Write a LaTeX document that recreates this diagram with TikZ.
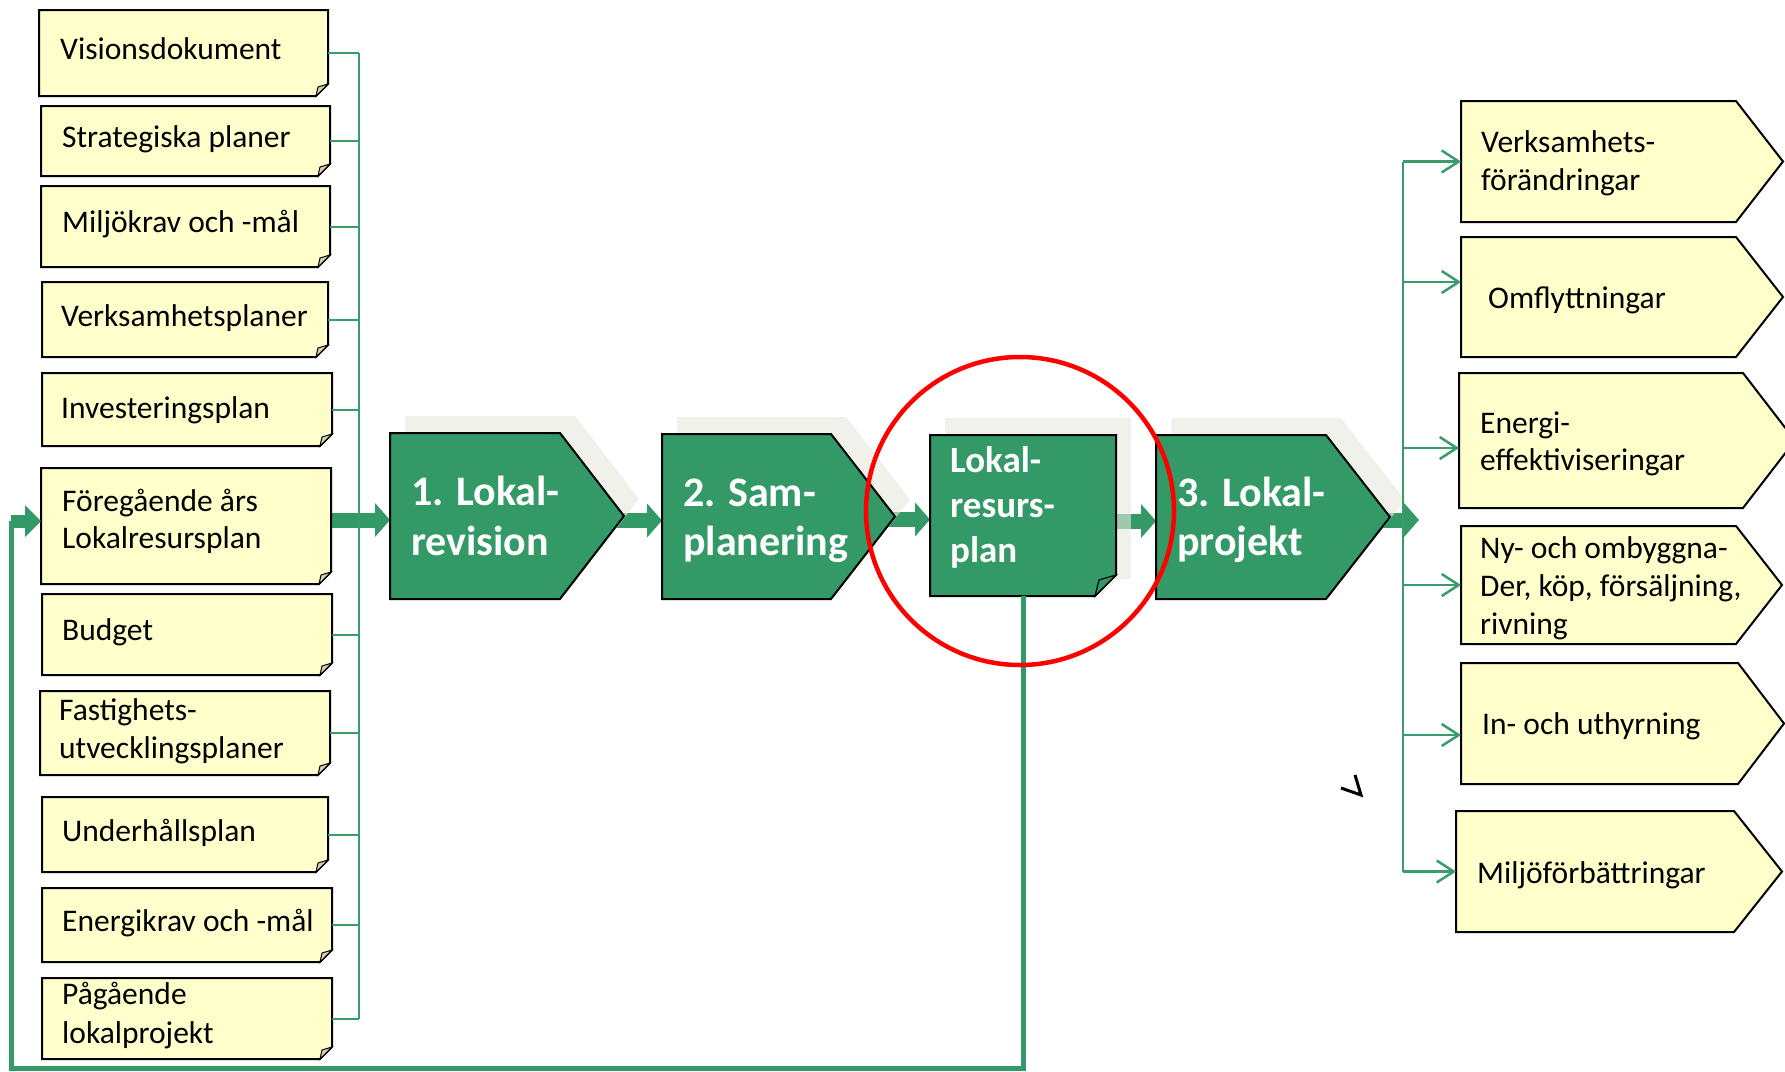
\documentclass[tikz,border=0pt]{standalone}
\usepackage{fontspec}
\setmainfont{Carlito}
\usetikzlibrary{arrows.meta,fit}
\pgfdeclarelayer{bg}
\pgfdeclarelayer{shadowlayer}
\pgfsetlayers{bg,shadowlayer,main}
\definecolor{pgreen}{HTML}{339966}
\definecolor{lgreen}{HTML}{3A9C6C}
\definecolor{yfill}{HTML}{FFFFCC}
\definecolor{shadc}{HTML}{E9E8DF}
\definecolor{flapc}{HTML}{D6D2AE}
\newcommand\mytwolines[3]{\vtop{\baselineskip=#1\hbox{#2}\hbox{#3}}}
\newcommand\mythreelines[4]{\vtop{\baselineskip=#1\hbox{#2}\hbox{#3}\hbox{#4}}}
\tikzset{
  fitbox/.style={inner sep=0pt, outer sep=0pt},
  notestyle/.style={fill=yfill, draw=black, line width=2pt},
  flapstyle/.style={fill=flapc, draw=black, line width=1pt},
  gstyle/.style={fill=pgreen, draw=black, line width=2pt},
  ystyle/.style={fill=yfill, draw=black, line width=2pt},
  shadstyle/.style={fill=shadc, opacity=0.6},
  thickarr/.style={draw=pgreen, line width=15pt, -{Triangle[length=15pt,width=34pt,line width=0pt]}},
  busline/.style={draw=lgreen, line width=2pt},
  rbusline/.style={draw=lgreen, line width=2.5pt},
  rarrow/.style={draw=lgreen, line width=2.5pt, -{Straight Barb[length=17pt,width=22pt]}},
  loopline/.style={draw=pgreen, line width=5pt},
  ltext/.style={anchor=base west, inner sep=0pt, font=\fontsize{31.5pt}{38pt}\selectfont},
  gtext/.style={anchor=base west, inner sep=0pt, text=white, font=\fontsize{42pt}{50pt}\selectfont\bfseries},
  lrptext/.style={anchor=base west, inner sep=0pt, text=white, font=\fontsize{37pt}{45pt}\selectfont\bfseries},
  hlcircle/.style={circle, draw=red, line width=4.5pt, minimum size=308pt, inner sep=0pt},
}
% note box with folded corner: name, x1, y1, x2, y2
\newcommand\notebox[5]{%
  \node[fitbox, fit={(#2,#3) (#4,#5)}] (#1) {};
  \filldraw[notestyle] (#1.north west) -- (#1.north east) -- ([yshift=12pt]#1.south east)
     -- ([xshift=-12pt]#1.south east) -- (#1.south west) -- cycle;
  \filldraw[flapstyle] ([yshift=12pt]#1.south east) -- ([xshift=-12pt]#1.south east)
     -- ([xshift=-10pt,yshift=9pt]#1.south east) -- cycle;}
% pentagon: name, x1, y1, xshoulder, xtip, y2, style
\newcommand\pentbox[7]{%
  \node[fitbox, fit={(#2,#3) (#5,#6)}] (#1) {};
  \filldraw[#7] (#2,#3) -- (#4,#3) -- (#5,{(#3+#6)/2}) -- (#4,#6) -- (#2,#6) -- cycle;}
% green process with shadow
\newcommand\greenproc[6]{%
  \pentbox{#1}{#2}{#3}{#4}{#5}{#6}{gstyle}
  \begin{pgfonlayer}{shadowlayer}
    \fill[shadstyle, shift={(15,-17)}] (#2,#3) -- (#4,#3) -- (#5,{(#3+#6)/2}) -- (#4,#6) -- (#2,#6) -- cycle;
  \end{pgfonlayer}}
\begin{document}
\begin{tikzpicture}[x=1pt,y=-1pt]
\begin{pgfonlayer}{bg}
  \fill[white] (0,0) rectangle (1785,1071);
\end{pgfonlayer}
\useasboundingbox (0,0) rectangle (1785,1071);

% ---------- green process shapes ----------
\greenproc{g1}{390}{433}{560}{624}{599}
\greenproc{g2}{662}{434}{831}{895}{599}
\greenproc{g3}{1156}{435}{1326}{1390}{599}
\node[fitbox, fit={(930,435) (1116,596)}] (lrp) {};
\begin{pgfonlayer}{shadowlayer}
  \fill[shadstyle] (945,418) rectangle (1131,579);
\end{pgfonlayer}
\filldraw[gstyle] (lrp.north west) -- (lrp.north east) -- ([yshift=21pt]lrp.south east)
   -- ([xshift=-21pt]lrp.south east) -- (lrp.south west) -- cycle;
\filldraw[gstyle, line width=1.2pt] ([yshift=21pt]lrp.south east) -- ([xshift=-21pt]lrp.south east)
   -- ([xshift=-17pt,yshift=16pt]lrp.south east) -- cycle;

\node[gtext] (g1t) at (411,505) {\mytwolines{50pt}{1. Lokal-}{revision}};
\node[gtext] (g2t) at (683,506) {\mytwolines{49pt}{2. Sam-}{planering}};
\node[gtext] (g3t) at (1177,506) {\mytwolines{49pt}{3. Lokal-}{projekt}};
\node[lrptext] (lrpt) at (950,472) {\mythreelines{45pt}{Lokal-}{resurs-}{plan}};

% ---------- left note boxes ----------
\notebox{b1}{39}{10}{328}{96}
\notebox{b2}{41}{106}{330}{176}
\notebox{b3}{41}{186}{330}{267}
\notebox{b4}{42}{282}{328}{357}
\notebox{b5}{42}{373}{332}{446}
\notebox{b6}{41}{468}{331}{584}
\notebox{b7}{42}{594}{332}{675}
\notebox{b8}{40}{691}{330}{775}
\notebox{b9}{42}{797}{328}{872}
\notebox{b10}{42}{888}{332}{962}
\notebox{b11}{42}{978}{332}{1059}

\node[ltext] (t1) at (60,59) {Visionsdokument};
\node[ltext] (t2) at (62,147) {Strategiska planer};
\node[ltext] (t3) at (62,232) {Miljökrav och -mål};
\node[ltext] (t4) at (61,326) {Verksamhetsplaner};
\node[ltext] (t5) at (61,418) {Investeringsplan};
\node[ltext] (t6) at (62,511) {\mytwolines{37pt}{Föregående års}{Lokalresursplan}};
\node[ltext] (t7) at (62,640) {Budget};
\node[ltext] (t8) at (59,720) {\mytwolines{38pt}{Fastighets-}{utvecklingsplaner}};
\node[ltext] (t9) at (62,841) {Underhållsplan};
\node[ltext] (t10) at (62,931) {Energikrav och -mål};
\node[ltext] (t11) at (62,1004) {\mytwolines{39pt}{Pågående}{lokalprojekt}};

% ---------- right boxes ----------
\pentbox{r1}{1461}{101}{1736}{1783}{222}{ystyle}
\pentbox{r2}{1461}{237}{1736}{1783}{357}{ystyle}
\pentbox{r3}{1459}{373}{1743}{1795}{508}{ystyle}
\pentbox{r4}{1461}{526}{1736}{1782}{644}{ystyle}
\pentbox{r5}{1461}{663}{1738}{1784}{784}{ystyle}
\pentbox{r6}{1456}{811}{1734}{1782}{932}{ystyle}

\node[ltext] (rt1) at (1481,152) {\mytwolines{38pt}{Verksamhets-}{förändringar}};
\node[ltext] (rt2) at (1488,308) {Omflyttningar};
\node[ltext] (rt3) at (1480,433) {\mytwolines{37pt}{Energi-}{effektiviseringar}};
\node[ltext] (rt4) at (1480,558) {\mythreelines{38pt}{Ny- och ombyggna-}{Der, köp, försäljning,}{rivning}};
\node[ltext] (rt5) at (1482,734) {In- och uthyrning};
\node[ltext] (rt6) at (1477,883) {Miljöförbättringar};

% ---------- thick process arrows (behind shapes) ----------
\coordinate (aL1) at ([yshift=-4pt]g1.west);
\coordinate (aL2) at ([yshift=-4pt]g2.west);
\coordinate (aLRP) at ([yshift=-4pt]lrp.west);
\coordinate (aL3) at ([yshift=-4pt]g3.west);
\coordinate (outR) at (1419,520);
\begin{pgfonlayer}{bg}
  \draw[thickarr] (b6.center |- aL1) -- (aL1);
  \draw[thickarr] (g1.center |- aL2) -- (aL2);
  \draw[thickarr] (g2.center |- aLRP) -- (aLRP);
  \draw[thickarr] (lrp.center |- aL3) -- (aL3);
  \draw[thickarr] (g3.center |- outR) -- (outR);
\end{pgfonlayer}

% ---------- left bus ----------
\coordinate (busL) at (359,0);
\foreach \b in {b1,b2,b3,b4,b5,b7,b8,b9,b10,b11}{
  \draw[busline] (\b.east) -- (\b.east -| busL);
}
\draw[busline] (b1.east -| busL) -- (b11.east -| busL);

% ---------- right bus ----------
\coordinate (busR) at (1403,0);
\coordinate (ar1) at (r1.west);
\coordinate (ar2) at ([yshift=15pt]r2.west);
\coordinate (ar3) at ([yshift=-7.5pt]r3.west);
\coordinate (ar4) at (r4.west);
\coordinate (ar5) at ([yshift=-11.5pt]r5.west);
\coordinate (ar6) at (r6.west);
\draw[rbusline] (busR |- ar1) -- (busR |- ar6);
\foreach \a in {ar1,ar2,ar3,ar4,ar5,ar6}{
  \draw[rarrow] (busR |- \a) -- (\a);
}

% ---------- feedback loop ----------
\coordinate (lb) at (11,1068);
\coordinate (fin) at ([yshift=5pt]b6.west);
\draw[loopline] (lrp.south) |- (lb) -- (lb |- fin);
\draw[draw=pgreen, line width=13pt, -{Triangle[length=16pt,width=32pt,line width=0pt]}] (lb |- fin) -- (fin);

% ---------- highlight circle ----------
\node[hlcircle] (hl) at (1020,511) {};

% ---------- stray mark ----------
\draw[line width=3pt] (1355,775) -- (1361,795) -- (1341,788);
\end{tikzpicture}
\end{document}
